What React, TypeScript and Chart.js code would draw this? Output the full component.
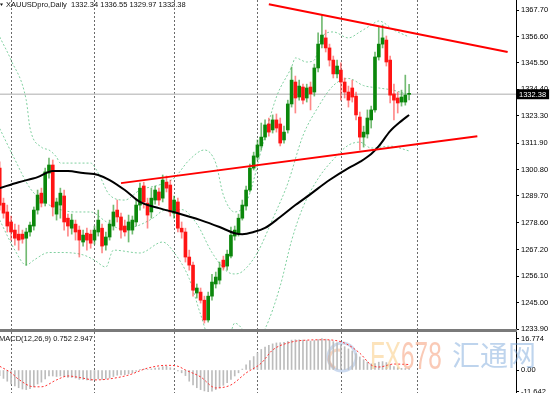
import React, { useEffect, useRef } from "react";
import { Chart, registerables } from "chart.js";
Chart.register(...registerables);

// ---- Daily XAUUSD candles (bar index 0..108) ----
const opens = [1301.4,1286.7,1283.0,1278.8,1275.4,1273.7,1273.7,1272.0,1274.6,1277.1,1283.8,1290.9,1286.7,1299.3,1302.7,1282.1,1285.9,1289.7,1280.4,1276.2,1277.9,1275.4,1270.4,1274.1,1273.7,1271.2,1274.6,1276.2,1269.1,1272.5,1277.1,1283.8,1280.9,1277.1,1275.4,1275.4,1278.8,1285.9,1293.9,1286.7,1283.0,1288.0,1291.4,1288.8,1295.5,1294.3,1282.5,1287.2,1276.2,1274.6,1264.1,1260.7,1249.0,1249.4,1246.0,1237.7,1247.7,1252.8,1254.4,1262.8,1260.3,1264.5,1272.9,1274.1,1280.4,1285.5,1292.2,1301.4,1306.0,1310.7,1314.4,1319.9,1317.4,1321.6,1319.9,1313.2,1317.4,1328.3,1337.5,1331.2,1335.4,1330.8,1335.4,1333.3,1343.4,1353.4,1356.0,1351.8,1346.7,1340.9,1342.5,1337.5,1333.3,1335.0,1331.6,1322.8,1314.4,1315.7,1321.6,1325.8,1348.0,1353.4,1355.1,1346.7,1332.5,1330.8,1329.1,1329.1,1332.34];
const highs = [1304.0,1288.8,1285.9,1281.3,1277.9,1277.5,1275.4,1276.2,1278.8,1285.1,1292.2,1293.0,1301.4,1305.6,1304.8,1288.8,1293.0,1292.2,1282.1,1282.1,1279.6,1277.1,1275.4,1276.2,1275.4,1277.1,1283.8,1277.9,1274.6,1279.6,1285.9,1288.0,1282.5,1279.6,1281.7,1281.3,1288.0,1295.1,1295.5,1288.8,1293.0,1293.9,1293.0,1298.5,1298.1,1296.4,1289.7,1288.8,1278.8,1276.2,1267.0,1262.0,1252.8,1251.1,1247.7,1249.4,1256.9,1257.8,1262.0,1264.5,1267.0,1276.7,1277.1,1282.1,1288.0,1293.9,1303.1,1308.1,1313.2,1320.3,1321.6,1322.4,1323.7,1324.1,1322.4,1319.0,1329.9,1343.8,1340.0,1338.3,1336.6,1336.6,1337.5,1345.0,1358.1,1365.6,1359.3,1353.4,1348.4,1346.7,1345.5,1339.2,1335.8,1338.3,1333.3,1324.9,1319.0,1325.8,1327.4,1350.1,1360.6,1361.4,1356.8,1348.4,1336.6,1333.3,1334.1,1340.4,1336.55];
const lows = [1283.8,1280.4,1274.6,1271.2,1269.1,1267.0,1269.9,1260.7,1272.9,1275.4,1282.1,1285.1,1285.5,1297.2,1281.3,1279.6,1280.4,1275.4,1272.9,1273.7,1271.2,1264.1,1268.7,1267.0,1267.8,1269.5,1272.9,1265.8,1267.0,1271.2,1275.4,1278.8,1272.0,1272.9,1270.4,1273.7,1277.1,1283.8,1284.6,1276.2,1280.4,1286.3,1285.9,1287.2,1291.4,1281.3,1280.4,1274.6,1272.0,1262.0,1258.6,1247.7,1246.9,1244.8,1236.4,1236.8,1246.0,1251.1,1252.8,1258.6,1258.6,1263.7,1271.2,1272.9,1279.6,1283.8,1291.4,1300.6,1304.8,1309.0,1313.2,1314.8,1316.1,1316.5,1310.7,1311.9,1316.1,1327.0,1324.5,1329.9,1328.3,1329.1,1325.8,1331.6,1341.7,1351.8,1350.1,1344.2,1339.2,1339.2,1329.9,1330.8,1327.0,1329.1,1321.6,1309.0,1310.2,1314.0,1318.2,1324.9,1346.7,1351.8,1344.2,1328.7,1321.6,1324.5,1327.4,1327.8,1329.97];
const closes = [1285.9,1282.5,1277.1,1274.6,1272.0,1271.2,1271.6,1274.6,1277.5,1283.8,1290.1,1286.7,1299.8,1302.7,1285.1,1287.2,1290.9,1278.8,1277.1,1279.6,1274.6,1271.2,1273.3,1271.2,1269.9,1275.4,1279.6,1268.7,1272.5,1277.9,1283.0,1280.9,1275.4,1274.6,1278.8,1279.6,1285.9,1293.0,1287.2,1281.7,1288.8,1292.2,1288.0,1296.4,1293.0,1283.0,1288.0,1276.2,1274.6,1264.1,1260.7,1250.2,1251.1,1246.0,1237.7,1247.7,1253.6,1255.7,1259.5,1259.9,1265.3,1273.3,1275.4,1280.4,1285.9,1292.2,1301.4,1306.5,1311.1,1314.4,1319.5,1316.5,1321.6,1318.2,1311.9,1316.5,1328.3,1338.3,1330.8,1335.8,1329.9,1335.0,1332.5,1343.4,1353.4,1357.2,1351.8,1346.7,1340.9,1344.2,1337.5,1333.3,1329.9,1331.2,1323.7,1314.4,1316.5,1322.4,1325.8,1348.0,1353.4,1356.0,1345.9,1332.0,1329.9,1328.7,1331.2,1332.0,1332.38];

// ---- Bollinger bands (read at sampled bars) ----
const bbUpperIdx = [0,3,7,8,11,13,15,16,24,26,29,33,37,42,46,50,54,57,59,62,65,67,69,73,77,78,81,83,85,88,92,95,98,100,104,108];
const bbUpperVal = [1356.4,1346.7,1329.9,1318.2,1310.2,1309.0,1306.0,1303.5,1303.5,1299.3,1290.1,1288.0,1292.2,1294.3,1297.2,1304.8,1309.0,1303.5,1290.1,1283.0,1286.7,1296.4,1309.0,1331.2,1343.8,1347.6,1345.9,1346.7,1356.4,1358.5,1356.0,1358.5,1361.4,1363.1,1359.3,1356.4];
const bbMidIdx = [0,4,8,12,16,20,24,28,32,36,40,44,48,52,56,60,62,64,68,72,76,80,84,88,92,96,100,104,108];
const bbMidVal = [1318,1305,1293,1287,1284,1283,1283,1279,1276,1277,1280,1284,1284,1278,1266,1258,1257,1258,1266,1280,1295,1315,1327,1336,1339,1336,1335,1334,1332];
const bbLowIdx = [0,4,7,9,13,16,22,25,28,30,37,43,46,50,53,56,60,62,65,67,70,74,77,80,84,88,92,95,98,103,108];
const bbLowVal = [1279.6,1267,1260.7,1262.8,1266,1266,1265,1262.8,1259.9,1267,1265.8,1270.4,1266,1255,1240,1228,1228,1236.4,1232,1228,1234,1252,1271,1285,1297,1305,1311,1312.3,1309.8,1310.6,1308.6];

// ---- Black moving average ----
const maIdx = [0,5,10,14,18,22,26,29,33,37,42,47,53,58,62,64,67,70,74,78,82,87,92,95,98,100,103,106,108];
const maVal = [1293.0,1295.5,1297.6,1300.2,1300.2,1299.3,1298.5,1296.4,1292.2,1287.2,1284.6,1282.5,1279.6,1276.7,1274.1,1273.7,1274.6,1276.3,1280.9,1285.9,1290.5,1296.4,1301.4,1304.0,1307.3,1310.6,1316.9,1321.2,1323.7];

// ---- Trend lines (bar index, price) ----
const upperTrendIdx = [71, 134];
const upperTrendVal = [1370.1, 1350.1];
const lowerTrendIdx = [32, 126];
const lowerTrendVal = [1295.1, 1314.8];

// ---- MACD(12,26,9) ----
const macdMain = [-3,-4.5,-6,-7.5,-8.5,-9.5,-10.2,-10.5,-10,-9,-7.5,-6.5,-4.8,-3.2,-3.2,-3.5,-3.2,-3.5,-4,-4,-4.3,-5,-5,-5.3,-5.6,-5.2,-4.8,-5,-4.8,-4.3,-3.5,-2.8,-2.6,-2.5,-2,-1.6,-0.8,0.3,0.5,0.3,0.6,1.0,1.2,1.8,2.0,1.2,0.6,-0.5,-1.5,-3,-6,-8,-9.5,-10.5,-11.2,-11.6,-11.3,-10.5,-9.5,-8.2,-6.8,-5,-3.2,-1.5,0.5,2.8,5,7.2,9.2,11,12.3,13.2,14,14.5,14.6,14.8,15.3,16,16.2,16.2,16,15.8,15.5,15.8,16.3,16.774,16.5,16,15.2,14.5,13.6,12.5,11.3,10.2,8.8,7,5.5,4.3,3.3,3.5,4.2,4.5,4,2.8,1.8,1.2,0.9,0.8,0.752];
const signalIdx = [0,3,5,9,11,15,18,21,25,28,34,39,44,47,49,53,57,61,65,69,72,77,81,86,91,95,98,100,104,108];
const signalVal = [2.0,-1.5,-5.0,-9.0,-9.0,-5.3,-3.2,-4.0,-5.3,-5.0,-2.7,1.0,2.5,2.0,0,-3.7,-9.6,-8.0,-1.6,3.7,10.7,15.0,16.0,16.2,14.4,9.0,2.7,1.6,3.2,2.947];

// ---- Axis ticks and month separators ----
const priceTicks = [1367.70,1356.60,1345.50,1334.40,1323.30,1311.90,1300.80,1289.70,1278.60,1267.20,1256.10,1245.00,1233.90];
const macdTickVals = [16.774, 0, -11.642];
const macdTickText = ["16.774", "0.00", "-11.642"];
const monthStartIdx = [3, 25, 46, 68, 90, 110];
const symbolTitle = "XAUUSDpro,Daily  1332.34 1336.55 1329.97 1332.38";
const macdTitle = "MACD(12,26,9) 0.752 2.947";
const lastPrice = 1332.38;

const X_MIN = 0.08;
const X_MAX = 136.2;
const FONT = "Liberation Sans, Arial, sans-serif";
const UP = "#0b870b";
const DOWN = "#ff1414";
const UP_W = "rgba(20,140,20,0.6)";
const DOWN_W = "rgba(255,40,40,0.55)";
const BAND = "#80d0a0";

const pts = (idx: number[], val: number[]) => idx.map((x, k) => ({ x, y: val[k] }));

const separatorPlugin = {
  id: "separators",
  beforeDatasetsDraw(chart: any) {
    const { ctx, chartArea, scales } = chart;
    ctx.save();
    ctx.strokeStyle = "#6a6a6a";
    ctx.lineWidth = 1;
    ctx.setLineDash([2, 2]);
    monthStartIdx.forEach((i) => {
      const x = Math.round(scales.x.getPixelForValue(i)) + 0.5;
      ctx.beginPath();
      ctx.moveTo(x, chartArea.top);
      ctx.lineTo(x, chartArea.bottom);
      ctx.stroke();
    });
    ctx.restore();
  },
};

const fixAxis = (s: any) => {
  s.width = 35;
  s.paddingTop = 0;
  s.paddingBottom = 0;
};

export default function App() {
  const mainRef = useRef<HTMLCanvasElement>(null);
  const macdRef = useRef<HTMLCanvasElement>(null);

  useEffect(() => {
    document.body.style.margin = "0";
    const idx = closes.map((_, i) => i);
    const isUp = idx.map((i) => closes[i] >= opens[i]);

    const priceLinePlugin = {
      id: "priceLine",
      beforeDatasetsDraw(chart: any) {
        const { ctx, chartArea, scales } = chart;
        const y = scales.y.getPixelForValue(lastPrice);
        ctx.save();
        ctx.strokeStyle = "#c8c8c8";
        ctx.lineWidth = 1.5;
        ctx.beginPath();
        ctx.moveTo(chartArea.left, y);
        ctx.lineTo(chartArea.right, y);
        ctx.stroke();
        ctx.restore();
      },
      afterDraw(chart: any) {
        const { ctx, chartArea, scales } = chart;
        const y = scales.y.getPixelForValue(lastPrice);
        ctx.save();
        ctx.font = `7.5px ${FONT}`;
        const label = lastPrice.toFixed(2);
        const w = ctx.measureText(label).width;
        ctx.fillStyle = "#000";
        ctx.fillRect(chartArea.right + 1, y - 5, w + 5, 10);
        ctx.fillStyle = "#fff";
        ctx.textBaseline = "middle";
        ctx.fillText(label, chartArea.right + 3, y + 0.5);
        ctx.fillStyle = "#111";
        ctx.fillText(symbolTitle, 6, 5);
        ctx.beginPath();
        ctx.moveTo(0, 3.5);
        ctx.lineTo(3, 3.5);
        ctx.lineTo(1.5, 6);
        ctx.closePath();
        ctx.fill();
        ctx.restore();
      },
    };

    const lineDs = (data: any, color: string, width: number, dash: number[], order: number, smooth: boolean) => ({
      type: "line",
      data,
      borderColor: color,
      borderWidth: width,
      borderDash: dash,
      pointRadius: 0,
      cubicInterpolationMode: smooth ? "monotone" : "default",
      order,
    });

    const main = new Chart(mainRef.current as HTMLCanvasElement, {
      type: "bar",
      data: {
        datasets: [
          lineDs(pts(bbUpperIdx, bbUpperVal), BAND, 1, [2, 2], 5, true),
          lineDs(pts(bbMidIdx, bbMidVal), BAND, 1, [2, 2], 5, true),
          lineDs(pts(bbLowIdx, bbLowVal), BAND, 1, [2, 2], 5, true),
          {
            type: "bar",
            data: idx.map((i) => ({ x: i, y: [lows[i], highs[i]] })),
            backgroundColor: idx.map((i) => (isUp[i] ? UP_W : DOWN_W)),
            barThickness: 1,
            grouped: false,
            order: 4,
          },
          {
            type: "bar",
            data: idx.map((i) => ({ x: i, y: [opens[i], closes[i]] })),
            backgroundColor: idx.map((i) => (isUp[i] ? UP : DOWN)),
            barThickness: 3,
            minBarLength: 1,
            grouped: false,
            order: 3,
          },
          lineDs(pts(maIdx, maVal), "#000", 2, [], 2, true),
          lineDs(pts(upperTrendIdx, upperTrendVal), "#ff0000", 2, [], 1, false),
          lineDs(pts(lowerTrendIdx, lowerTrendVal), "#ff0000", 2, [], 1, false),
        ] as any,
      },
      options: {
        responsive: false,
        animation: false,
        devicePixelRatio: 1,
        layout: { padding: { top: 0, bottom: 5, left: 0, right: 0 } },
        plugins: { legend: { display: false }, tooltip: { enabled: false } },
        scales: {
          x: { type: "linear", min: X_MIN, max: X_MAX, display: false, offset: false },
          y: {
            position: "right",
            min: 1233.5,
            max: 1371.9,
            afterBuildTicks: (s: any) => {
              s.ticks = priceTicks.map((v) => ({ value: v }));
            },
            afterFit: fixAxis,
            grid: { drawOnChartArea: false, tickLength: 3, color: "#000" },
            border: { color: "#000" },
            ticks: {
              autoSkip: false,
              padding: 2,
              color: "#000",
              font: { size: 7.5, family: FONT },
              callback: (v: any) => Number(v).toFixed(2),
            },
          },
        },
      } as any,
      plugins: [separatorPlugin, priceLinePlugin],
    });

    const macdDecor = {
      id: "macdDecor",
      beforeDatasetsDraw(chart: any) {
        const { ctx } = chart;
        ctx.save();
        ctx.lineWidth = 3;
        ctx.strokeStyle = "rgba(110,150,210,0.35)";
        ctx.beginPath();
        ctx.arc(342, 25, 14, 0, Math.PI * 2);
        ctx.stroke();
        ctx.strokeStyle = "rgba(240,140,80,0.35)";
        ctx.beginPath();
        ctx.arc(338, 27, 9, Math.PI * 0.6, Math.PI * 1.6);
        ctx.stroke();
        ctx.restore();
      },
      afterDraw(chart: any) {
        const { ctx } = chart;
        ctx.save();
        ctx.fillStyle = "#111";
        ctx.font = `7.5px ${FONT}`;
        ctx.textBaseline = "middle";
        ctx.fillText(macdTitle, -1, 7);
        ctx.restore();
      },
    };

    const macd = new Chart(macdRef.current as HTMLCanvasElement, {
      type: "bar",
      data: {
        datasets: [
          {
            type: "bar",
            data: idx.map((i) => ({ x: i, y: macdMain[i] })),
            backgroundColor: "#bcbcbc",
            barThickness: 1,
            grouped: false,
            order: 2,
          },
          lineDs(pts(signalIdx, signalVal), "#ff3030", 1, [2, 2], 1, true),
        ] as any,
      },
      options: {
        responsive: false,
        animation: false,
        devicePixelRatio: 1,
        layout: { padding: 0 },
        plugins: { legend: { display: false }, tooltip: { enabled: false } },
        scales: {
          x: { type: "linear", min: X_MIN, max: X_MAX, display: false, offset: false },
          y: {
            position: "right",
            min: -12.32,
            max: 20.36,
            afterBuildTicks: (s: any) => {
              s.ticks = macdTickVals.map((v) => ({ value: v }));
            },
            afterFit: fixAxis,
            grid: { drawOnChartArea: false, tickLength: 3, color: "#000" },
            border: { color: "#000" },
            ticks: {
              autoSkip: false,
              padding: 2,
              color: "#000",
              font: { size: 7.5, family: FONT },
              callback: (v: any) => {
                const k = macdTickVals.indexOf(Number(v));
                return k >= 0 ? macdTickText[k] : "";
              },
            },
          },
        },
      } as any,
      plugins: [separatorPlugin, macdDecor],
    });

    return () => {
      main.destroy();
      macd.destroy();
    };
  }, []);

  return (
    <div style={{ position: "relative", width: 551, height: 393, background: "#fff", overflow: "hidden" }}>
      <canvas ref={mainRef} width={551} height={335} style={{ position: "absolute", left: 0, top: 0 }} />
      <div style={{ position: "absolute", left: 0, top: 329, width: 517, height: 3, background: "#7a7a7a" }} />
      <canvas ref={macdRef} width={551} height={61} style={{ position: "absolute", left: 0, top: 332 }} />
      <div
        style={{
          position: "absolute",
          left: 370,
          top: 336,
          fontFamily: "Liberation Sans, Arial, sans-serif",
          fontSize: 38,
          lineHeight: "40px",
          transform: "scaleX(0.64)",
          transformOrigin: "left top",
          pointerEvents: "none",
          whiteSpace: "nowrap",
        }}
      >
        <span style={{ color: "rgba(250,200,120,0.5)" }}>FX</span>
        <span style={{ color: "rgba(245,150,110,0.5)" }}>678</span>
      </div>
      <div
        style={{
          position: "absolute",
          left: 452,
          top: 337,
          fontFamily: "Noto Sans CJK SC, sans-serif",
          fontSize: 28,
          lineHeight: "34px",
          color: "rgba(110,160,215,0.45)",
          pointerEvents: "none",
          whiteSpace: "nowrap",
        }}
      >
        汇通网
      </div>
    </div>
  );
}
